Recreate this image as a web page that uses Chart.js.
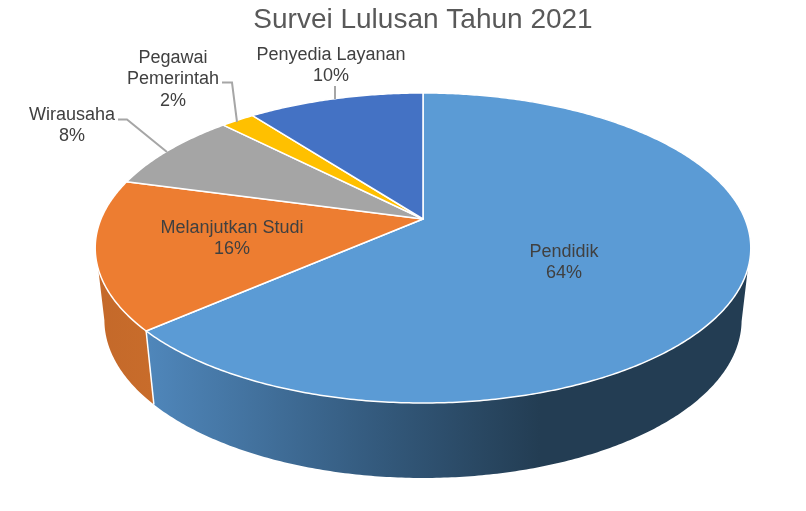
<!DOCTYPE html>
<html>
<head>
<meta charset="utf-8">
<style>
  html, body { margin: 0; padding: 0; background: #fff; }
  canvas { display: block; }
</style>
<script src="https://cdn.jsdelivr.net/npm/chart.js@4"></script>
</head>
<body>
<canvas id="chart" width="806" height="511"></canvas>
<script>
const categories = ["Pendidik", "Melanjutkan Studi", "Wirausaha", "Pegawai Pemerintah", "Penyedia Layanan"];
const shares = [63.6, 15.6, 8.4, 2.0, 10.4];
const colors = ["#5B9BD5", "#ED7D31", "#A5A5A5", "#FFC000", "#4472C4"];

// where the label lines sit, one entry per slice: [centre x, first line middle y, lines]
const labelSpots = [
  [564, 252, ["Pendidik"]],
  [232, 228, ["Melanjutkan Studi"]],
  [72, 115, ["Wirausaha"]],
  [173, 58, ["Pegawai", "Pemerintah"]],
  [331, 55, ["Penyedia Layanan"]]
];
const leaders = [
  [[118, 119.5], [127, 119.5], [167, 152]],
  [[222, 82.5], [232, 82.5], [237, 122]],
  [[335, 86], [335, 99]]
];

// tilted disc: perspective map of the unit circle, apex is the pie centre
const apexX = 423, apexY = 219, radX = 322, radY = 149.6, tilt = 0.187;
// lower rim of the wall
const rimTopCy = 248, rimLowCy = 320, rimScaleX = 0.972, rimScaleY = 1.019, wallStartY = 268;

function rimPoint(a) {
  const u = Math.cos(a), v = Math.sin(a), w = 1 - tilt * v;
  return [apexX + radX * u / w, apexY + radY * v / w];
}

function lowPoint(p) {
  return [apexX + (p[0] - apexX) * rimScaleX, rimLowCy + (p[1] - rimTopCy) * rimScaleY];
}

function rimSamples(a0, a1) {
  const pts = [];
  const n = Math.max(2, Math.ceil((a1 - a0) / 0.01));
  for (let i = 0; i <= n; i++) pts.push(rimPoint(a0 + (a1 - a0) * i / n));
  return pts;
}

function tracePts(ctx, pts, first) {
  pts.forEach((p, i) => {
    if (i === 0 && first) ctx.moveTo(p[0], p[1]);
    else ctx.lineTo(p[0], p[1]);
  });
}

const tiltedPie = {
  id: "tiltedPie",
  beforeDatasetDraw(chart) {
    const ctx = chart.ctx;
    const arcs = chart.getDatasetMeta(0).data;
    ctx.save();
    ctx.lineJoin = "round";

    // wall first, only the part of each slice that faces the viewer
    arcs.forEach((arc, i) => {
      const ring = rimSamples(arc.startAngle, arc.endAngle);
      const top = ring.filter(p => p[1] >= wallStartY);
      if (top.length < 2) return;
      const low = ring.filter(p => p[1] >= rimTopCy).map(lowPoint).reverse();
      ctx.beginPath();
      tracePts(ctx, top, true);
      tracePts(ctx, low, false);
      ctx.closePath();
      if (i === 0) {
        const g = ctx.createLinearGradient(150, 0, 540, 0);
        g.addColorStop(0, "#4F86BA");
        g.addColorStop(0.55, "#355C80");
        g.addColorStop(1, "#233D53");
        ctx.fillStyle = g;
      } else {
        const g = ctx.createLinearGradient(97, 0, 153, 0);
        g.addColorStop(0, "#C4692A");
        g.addColorStop(1, "#C86C2B");
        ctx.fillStyle = g;
      }
      ctx.fill();
    });

    // white seam between the two wall pieces
    const seam = rimPoint(arcs[0].endAngle);
    const seamLow = lowPoint(seam);
    ctx.beginPath();
    ctx.moveTo(seam[0], seam[1]);
    ctx.lineTo(seamLow[0], seamLow[1]);
    ctx.strokeStyle = "#fff";
    ctx.lineWidth = 1.5;
    ctx.stroke();

    // top face
    arcs.forEach((arc, i) => {
      ctx.beginPath();
      ctx.moveTo(apexX, apexY);
      tracePts(ctx, rimSamples(arc.startAngle, arc.endAngle), false);
      ctx.closePath();
      ctx.fillStyle = colors[i];
      ctx.fill();
      ctx.strokeStyle = "#fff";
      ctx.lineWidth = 1.5;
      ctx.stroke();
    });
    ctx.restore();
    return false;
  },
  afterDraw(chart) {
    const ctx = chart.ctx;
    ctx.save();
    ctx.strokeStyle = "#A6A6A6";
    ctx.lineWidth = 2;
    leaders.forEach(line => {
      ctx.beginPath();
      tracePts(ctx, line, true);
      ctx.stroke();
    });
    ctx.font = "18px 'Liberation Sans'";
    ctx.fillStyle = "#404040";
    ctx.textAlign = "center";
    ctx.textBaseline = "middle";
    labelSpots.forEach((spot, i) => {
      const lines = spot[2].concat([Math.round(shares[i]) + "%"]);
      lines.forEach((t, j) => ctx.fillText(t, spot[0], spot[1] + j * 21.5));
    });
    ctx.restore();
  }
};

new Chart(document.getElementById("chart"), {
  type: "pie",
  data: {
    labels: categories,
    datasets: [{ data: shares, backgroundColor: colors }]
  },
  options: {
    responsive: false,
    animation: false,
    devicePixelRatio: 1,
    layout: { padding: { left: 40 } },
    events: [],
    plugins: {
      legend: { display: false },
      tooltip: { enabled: false },
      title: {
        display: true,
        fullSize: false,
        text: "Survei Lulusan Tahun 2021",
        color: "#595959",
        font: { family: "'Liberation Sans'", size: 28, weight: "normal" },
        padding: { top: 3, bottom: 10 }
      }
    }
  },
  plugins: [tiltedPie]
});
</script>
</body>
</html>
